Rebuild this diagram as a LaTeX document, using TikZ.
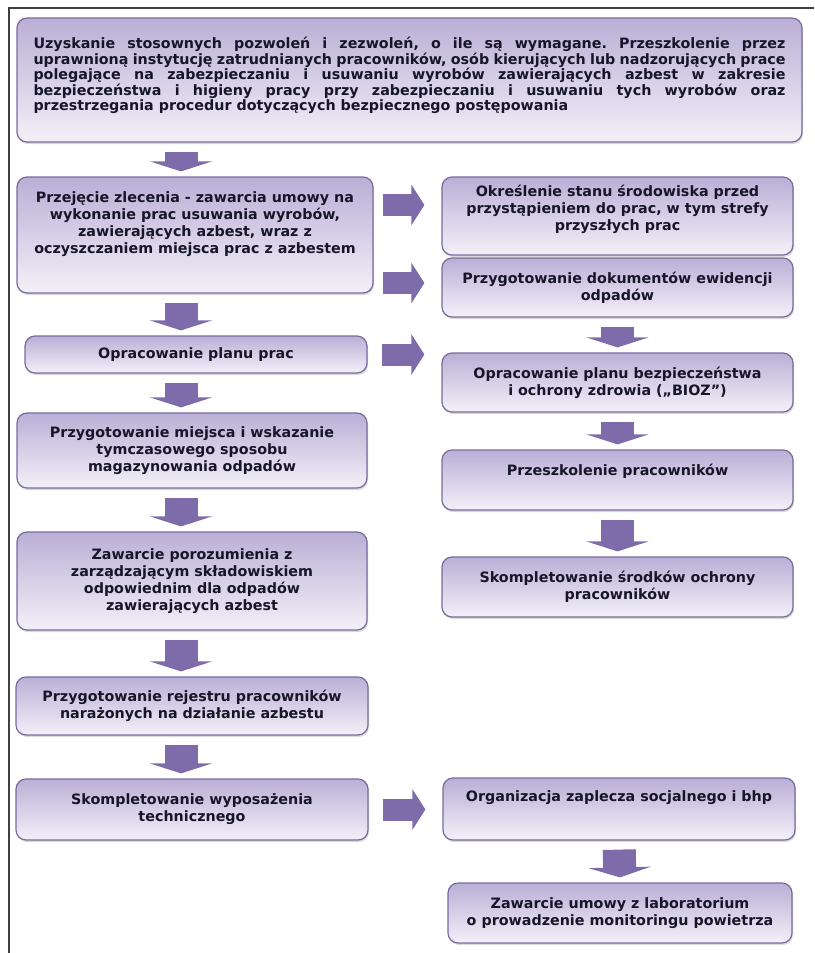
\documentclass[tikz,border=0pt]{standalone}
\usepackage{fontspec}
\setmainfont{DejaVu Sans}
\usetikzlibrary{arrows.meta,shadows}
\frenchspacing
\definecolor{boxtop}{RGB}{186,175,214}
\definecolor{boxbot}{RGB}{243,240,248}
\definecolor{boxline}{RGB}{120,108,156}
\definecolor{arrowc}{RGB}{125,107,170}
\definecolor{ink}{RGB}{22,22,40}
\tikzset{
  phase/.style={rectangle, rounded corners=10pt, draw=boxline, line width=1.2pt,
    top color=boxtop, bottom color=boxbot, text=ink, align=center,
    font=\fontsize{14.3}{17}\selectfont\bfseries,
    drop shadow={shadow xshift=1pt, shadow yshift=-2pt, opacity=.3}},
  darr/.style={draw=arrowc, line width=33pt, -{Triangle[width=62pt,length=10pt]},
    shorten <=9pt, shorten >=5pt},
  rarr/.style={draw=arrowc, line width=22pt, -{Triangle[width=40pt,length=13pt]},
    shorten <=14pt, shorten >=17pt}
}
\begin{document}
\begin{tikzpicture}[x=1pt,y=-1pt]
  \useasboundingbox (0,0) rectangle (814,953);
  \draw[line width=1.1pt,black!75] (814,8) -- (9,8) -- (9,953);
  \path
    (409.5,80) node[phase,text width=752pt,minimum width=785pt,minimum height=124pt,align=justify,
      font=\fontsize{14.3}{15.5}\selectfont\bfseries] (top)
      {Uzyskanie stosownych pozwoleń i zezwoleń, o ile są wymagane. Przeszkolenie przez\linebreak
       uprawnioną instytucję zatrudnianych pracowników, osób kierujących lub nadzorujących prace\linebreak
       polegające na zabezpieczaniu i usuwaniu wyrobów zawierających azbest w zakresie\linebreak
       bezpieczeństwa i higieny pracy przy zabezpieczaniu i usuwaniu tych wyrobów oraz\linebreak
       przestrzegania procedur dotyczących bezpiecznego postępowania\\[-3.5pt]\mbox{}}
    (195,235) node[phase,minimum width=356pt,minimum height=116pt] (A)
      {Przejęcie zlecenia - zawarcia umowy na\\wykonanie prac usuwania wyrobów,\\zawierających azbest, wraz z\\oczyszczaniem miejsca prac z azbestem\\[7pt]\mbox{}}
    (196,354.5) node[phase,minimum width=342pt,minimum height=37pt] (B)
      {Opracowanie planu prac}
    (192,450.5) node[phase,minimum width=350pt,minimum height=75pt] (C)
      {Przygotowanie miejsca i wskazanie\\tymczasowego sposobu\\magazynowania odpadów}
    (192,581) node[phase,minimum width=350pt,minimum height=98pt] (D)
      {Zawarcie porozumienia z\\zarządzającym składowiskiem\\odpowiednim dla odpadów\\zawierających azbest}
    (192,706) node[phase,minimum width=352pt,minimum height=58pt] (E)
      {Przygotowanie rejestru pracowników\\narażonych na działanie azbestu}
    (192,809.5) node[phase,minimum width=352pt,minimum height=61pt] (F)
      {Skompletowanie wyposażenia\\technicznego}
    (617.5,216) node[phase,minimum width=351pt,minimum height=78pt] (R1)
      {Określenie stanu środowiska przed\\przystąpieniem do prac, w tym strefy\\przyszłych prac\\[-1pt]\mbox{}}
    (617.5,287.5) node[phase,minimum width=351pt,minimum height=59pt] (R2)
      {Przygotowanie dokumentów ewidencji\\odpadów}
    (617.5,382.5) node[phase,minimum width=351pt,minimum height=59pt] (R3)
      {Opracowanie planu bezpieczeństwa\\i ochrony zdrowia („BIOZ”)}
    (617.5,480) node[phase,minimum width=351pt,minimum height=60pt] (R4)
      {Przeszkolenie pracowników\\[3pt]\mbox{}}
    (617.5,587) node[phase,minimum width=351pt,minimum height=60pt] (R5)
      {Skompletowanie środków ochrony\\pracowników}
    (619,809) node[phase,minimum width=352pt,minimum height=62pt] (R6)
      {Organizacja zaplecza socjalnego i bhp\\[9pt]\mbox{}}
    (620,913) node[phase,minimum width=344pt,minimum height=60pt] (R7)
      {Zawarcie umowy z laboratorium\\o prowadzenie monitoringu powietrza};
  \coordinate (lcol) at (181,0);
  \coordinate (a1) at ([yshift=30pt]A.east);
  \coordinate (a2) at ([yshift=-48pt]A.east);
  \begin{scope}[darr]
    \draw (top.south -| lcol) to (A.north -| lcol);
    \draw (A.south -| lcol) to (B.north -| lcol);
    \draw (B.south -| lcol) to (C.north -| lcol);
    \draw (C.south -| lcol) to (D.north -| lcol);
    \draw (D.south -| lcol) to (E.north -| lcol);
    \draw (E.south -| lcol) to (F.north -| lcol);
    \draw (R2.south) to (R3.north);
    \draw (R3.south) to (R4.north);
    \draw (R4.south) to (R5.north);
    \draw (R6.south) to (R7.north);
  \end{scope}
  \begin{scope}[rarr]
    \draw[shorten <=9pt] (a1) to (a1 -| R1.west);
    \draw[shorten <=9pt] (a2) to (a2 -| R2.west);
    \draw (B.east) to (B.east -| R3.west);
    \draw (F.east) to (F.east -| R6.west);
  \end{scope}
\end{tikzpicture}
\end{document}
